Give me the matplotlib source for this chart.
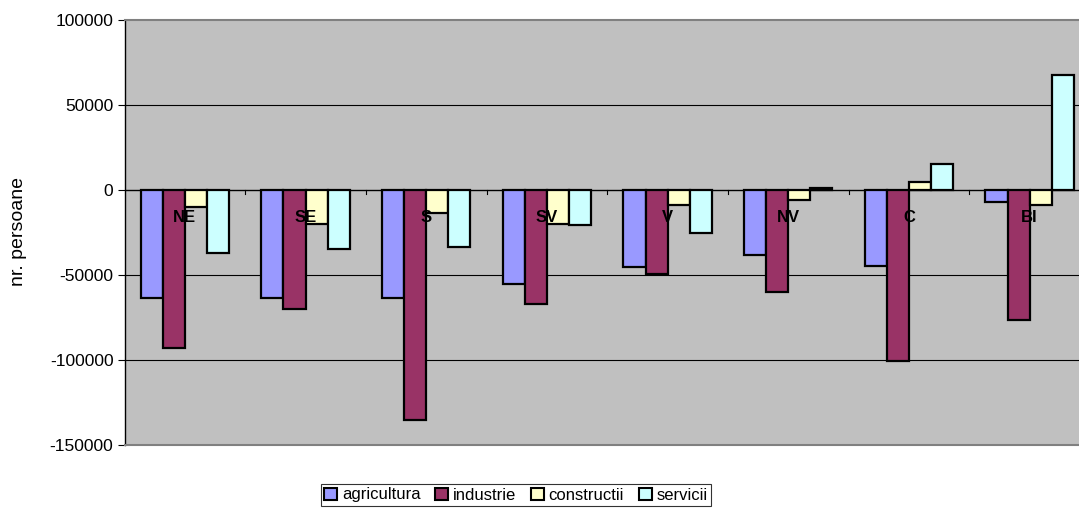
import matplotlib
matplotlib.use("Agg")
import matplotlib.pyplot as plt
import numpy as np
from matplotlib.patches import Patch

plt.rcParams['font.family'] = ['Liberation Sans', 'DejaVu Sans']
plt.rcParams['axes.unicode_minus'] = False

regions = ["NE", "SE", "S", "SV", "V", "NV", "C", "BI"]
series_names = ["agricultura", "industrie", "constructii", "servicii"]
agricultura = [-63300, -63300, -63500, -55500, -45500, -38000, -44500, -6900]
industrie = [-93000, -70200, -135100, -67300, -49200, -60200, -100600, -76700]
constructii = [-10000, -20000, -13400, -20000, -8600, -6100, 4700, -8600]
servicii = [-37300, -34500, -33400, -20800, -25100, 1000, 15500, 67400]
yticks = [100000, 50000, 0, -50000, -100000, -150000]
colors = ["#9999FF", "#993366", "#FFFFCC", "#CCFFFF"]

W, H = 1079, 509
fig = plt.figure(figsize=(W / 100, H / 100), dpi=100)
left_px, right_px, top_px, bot_px = 124.5, 1090, 20, 445
ax = fig.add_axes([left_px / W, 1 - bot_px / H, (right_px - left_px) / W, (bot_px - top_px) / H])
ax.set_facecolor("#C0C0C0")

x = np.arange(len(regions))
w = 0.183
data = [agricultura, industrie, constructii, servicii]
for k, (vals, c) in enumerate(zip(data, colors)):
    ax.bar(x + (k - 1.5) * w, vals, width=w, color=c, edgecolor="black", linewidth=1.6, zorder=3)

ax.set_xlim(-0.5, len(regions) - 0.5)
ax.set_ylim(-150000, 100000)
ax.set_yticks(yticks)
ax.set_yticklabels([str(v) for v in yticks], fontsize=12.5)
ax.tick_params(axis='y', direction='out', length=5, width=0.8, pad=3)
ax.set_xticks([])
for yv in yticks[1:-1]:
    ax.axhline(yv, color="black", linewidth=0.8 if yv != 0 else 1.0, zorder=2)

# category tick marks at zero line
for b in np.arange(0.5, len(regions) - 0.5, 1.0):
    ax.plot([b, b], [0, -2500], color="black", linewidth=0.8, zorder=2)

for i, r in enumerate(regions):
    ax.text(i, -16000, r, ha="center", va="center", fontsize=12, fontweight="bold", zorder=5)

for s in ["top", "right", "bottom"]:
    ax.spines[s].set_color("#808080")
    ax.spines[s].set_linewidth(1.5)
ax.spines["left"].set_color("black")
ax.spines["left"].set_linewidth(1.0)

fig.text(19 / W, 1 - 232 / H, "nr. persoane", rotation=90, ha="center", va="center", fontsize=14)

handles = [Patch(facecolor=c, edgecolor="black", linewidth=1.5) for c in colors]
leg = fig.legend(handles, series_names, loc="center", bbox_to_anchor=(516 / W, 1 - 495 / H),
                 ncol=4, fontsize=12, frameon=True, fancybox=False, handlelength=0.75,
                 handleheight=0.75, handletextpad=0.3, columnspacing=0.9, borderpad=0.2,
                 borderaxespad=0)
leg.get_frame().set_edgecolor("black")
leg.get_frame().set_linewidth(0.8)

fig.savefig("out.png", dpi=100)
